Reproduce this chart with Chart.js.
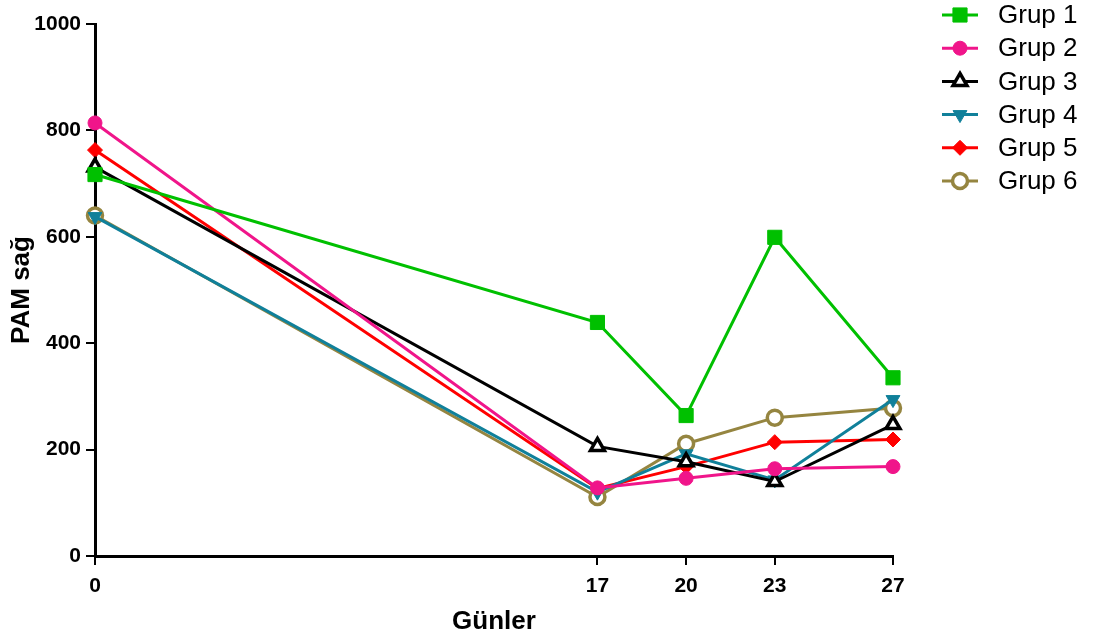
<!DOCTYPE html>
<html><head><meta charset="utf-8">
<script src="https://cdn.jsdelivr.net/npm/chart.js@4/dist/chart.umd.min.js"></script>
<style>html,body{margin:0;padding:0;background:#fff}#wrap{width:1096px;height:643px}</style>
</head><body><div id="wrap"><canvas id="c" width="1096" height="643"></canvas></div>
<script>
const days = [0, 17, 20, 23, 27];
const xTicks = [0, 17, 20, 23, 27];
const yTicks = [0, 200, 400, 600, 800, 1000];
const seriesNames = ["Grup 1", "Grup 2", "Grup 3", "Grup 4", "Grup 5", "Grup 6"];
const grup1 = [717, 439, 264, 599, 335];
const grup2 = [814, 128, 146, 164, 168];
const grup3 = [731, 206, 177, 140, 247];
const grup4 = [638, 120, 192, 143, 294];
const grup5 = [763, 127, 168, 214, 219];
const grup6 = [640, 111, 211, 260, 278];
const xTitle = "Günler";
const yTitle = "PAM sağ";

const FONT = "'Liberation Sans',Arial,sans-serif";
const styles = [
  {c:'#00c000', ps:'rect', r:10, rot:0, fill:'#00c000', bw:1},
  {c:'#f0158a', ps:'circle', r:7, rot:0, fill:'#f0158a', bw:1},
  {c:'#000000', ps:'triangle', r:8, rot:0, fill:'#ffffff', bw:3.5},
  {c:'#10809a', ps:'triangle', r:8, rot:180, fill:'#10809a', bw:1},
  {c:'#ff0000', ps:'rectRot', r:7.5, rot:0, fill:'#ff0000', bw:1},
  {c:'#958540', ps:'circle', r:7.5, rot:0, fill:'#ffffff', bw:3.5}
];
const allSeries = [grup1, grup2, grup3, grup4, grup5, grup6];
const datasets = allSeries.map((vals, i) => ({
  label: seriesNames[i],
  data: days.map((d, j) => ({x: d, y: vals[j]})),
  borderColor: styles[i].c,
  borderWidth: 3,
  pointStyle: styles[i].ps,
  pointRadius: styles[i].r,
  pointRotation: styles[i].rot,
  pointBackgroundColor: styles[i].fill,
  pointBorderColor: styles[i].c,
  pointBorderWidth: styles[i].bw,
  tension: 0,
  fill: false,
  clip: false
}));

const legendPlugin = {
  id: 'customLegend',
  afterDraw(chart) {
    const ctx = chart.ctx;
    ctx.save();
    chart.data.datasets.forEach((ds, i) => {
      const y = 15 + i * 33.2;
      ctx.strokeStyle = ds.borderColor;
      ctx.lineWidth = 3;
      ctx.beginPath(); ctx.moveTo(942, y); ctx.lineTo(978, y); ctx.stroke();
      ctx.fillStyle = ds.pointBackgroundColor;
      ctx.strokeStyle = ds.pointBorderColor;
      ctx.lineWidth = ds.pointBorderWidth;
      Chart.helpers.drawPoint(ctx, {
        pointStyle: ds.pointStyle, rotation: ds.pointRotation,
        radius: ds.pointRadius, borderWidth: ds.pointBorderWidth
      }, 960, y);
      ctx.fillStyle = '#000';
      ctx.font = "26px 'Liberation Sans',Arial,sans-serif";
      ctx.textBaseline = 'middle';
      ctx.textAlign = 'left';
      ctx.fillText(ds.label, 998, y + 1);
    });
    ctx.restore();
  }
};

new Chart(document.getElementById('c'), {
  type: 'line',
  data: { datasets },
  options: {
    responsive: false,
    animation: false,
    layout: { padding: { left: 6, top: 24, right: 203, bottom: 6 } },
    plugins: { legend: { display: false }, tooltip: { enabled: false } },
    scales: {
      x: {
        type: 'linear', min: 0, max: 27,
        afterBuildTicks(axis) { axis.ticks = xTicks.map(v => ({value: v})); },
        afterFit(axis) { axis.height = 81; },
        grid: { drawOnChartArea: false, drawTicks: true, tickLength: 9, color: '#000', lineWidth: 2 },
        border: { display: true, color: '#000', width: 3 },
        ticks: { color: '#000', font: { family: FONT, size: 21, weight: 'bold' }, padding: 9, maxRotation: 0, autoSkip: false, callback: v => String(v) },
        title: { display: true, text: xTitle, color: '#000', font: { family: FONT, size: 26, weight: 'bold' }, padding: { top: 2, bottom: 0 } }
      },
      y: {
        min: 0, max: 1000,
        afterBuildTicks(axis) { axis.ticks = yTicks.map(v => ({value: v})); },
        afterFit(axis) { axis.width = 89; },
        grid: { drawOnChartArea: false, drawTicks: true, tickLength: 9, color: '#000', lineWidth: 2 },
        border: { display: true, color: '#000', width: 3 },
        ticks: { color: '#000', font: { family: FONT, size: 21, weight: 'bold' }, padding: 5, callback: v => String(v) },
        title: { display: true, text: yTitle, color: '#000', font: { family: FONT, size: 26, weight: 'bold' }, padding: { top: 0, bottom: 2 } }
      }
    }
  },
  plugins: [legendPlugin]
});
</script></body></html>
